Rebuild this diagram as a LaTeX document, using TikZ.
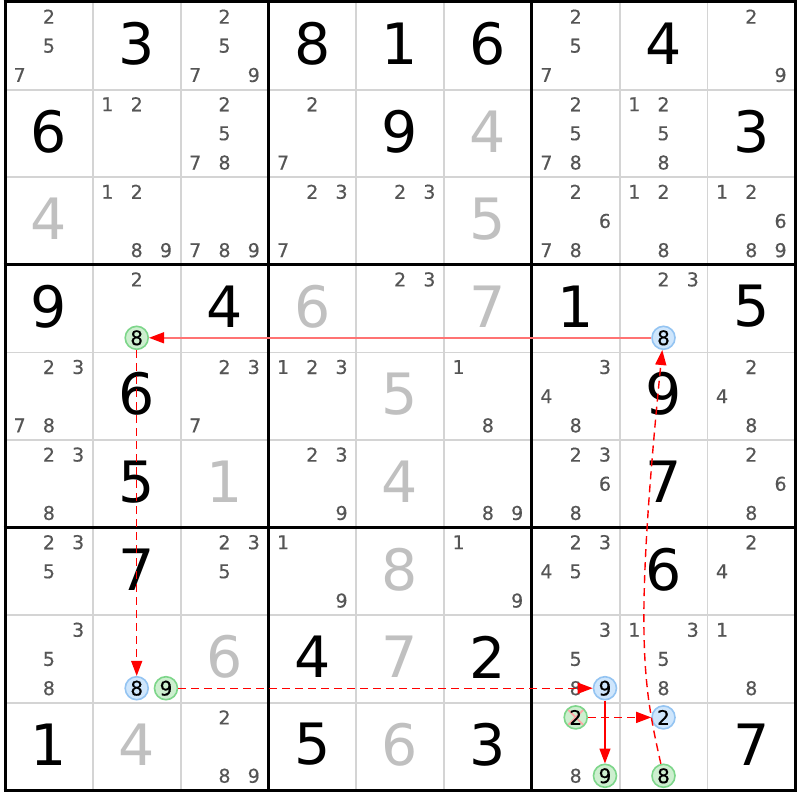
\documentclass[tikz,border=0pt]{standalone}
\usepackage{fontspec}
\setmainfont{DejaVu Sans}
\newfontfamily\candfont{DejaVu Sans}[FakeBold=0.4]
\usetikzlibrary{arrows.meta}

\definecolor{candgray}{HTML}{555555}
\definecolor{solvedgray}{HTML}{C0C0C0}
\definecolor{thingrid}{HTML}{D4D4D4}
\definecolor{bluefill}{HTML}{CFE6FC}
\definecolor{blueline}{HTML}{94C4F2}
\definecolor{greenfill}{HTML}{CDEFCF}
\definecolor{greenline}{HTML}{7DD68A}
\definecolor{linkred}{HTML}{FF0000}

\tikzset{
  given/.style={font=\fontsize{57}{57}\selectfont, text=black, inner sep=0pt},
  solved/.style={given, text=solvedgray},
  cand/.style={font=\candfont\fontsize{19}{19}\selectfont, text=candgray, inner sep=0pt},
  hlblue/.style={circle, draw=blueline, fill=bluefill, line width=1.6pt, minimum size=23pt, inner sep=0pt, font=\candfont\fontsize{20}{20}\selectfont, text=black},
  hlgreen/.style={hlblue, draw=greenline, fill=greenfill},
  link/.style={draw=linkred, line width=1.4pt, -{Triangle[length=15pt,width=11pt,color=linkred]}},
  linkdash/.style={link, dash pattern=on 8pt off 5pt}
}

\begin{document}
\begin{tikzpicture}[x=1pt, y=-1pt]
    \useasboundingbox[fill=white] (0,0) rectangle (800,800);

    % cell centres and candidate places
    \foreach \r in {1,...,9} {
      \foreach \c in {1,...,9} {
        \coordinate (m\r\c) at ({5+(\c-0.5)*87.8}, {0+(\r-0.5)*87.6});
        \foreach \d in {1,...,9} {
          \coordinate (p\r\c\d) at ({5+(\c-1)*87.8+(mod(\d-1,3)+0.5)*29.27}, {2+(\r-1)*87.6+(floor((\d-1)/3)+0.5)*29.2});
        }
      }
    }

    % grid
    \foreach \i in {1,2,4,5,7,8} {
      \draw[thingrid, line width=1.8pt] ({5+\i*87.8},2) -- ({5+\i*87.8},790);
      \draw[thingrid, line width=1.8pt] (5,{2+\i*87.6}) -- (795,{2+\i*87.6});
    }
    \foreach \i in {0,3,6,9} {
      \draw[black, line width=3pt] ({5+\i*87.8},0.5) -- ({5+\i*87.8},791.5);
      \draw[black, line width=3pt] (3.5,{2+\i*87.6}) -- (796.5,{2+\i*87.6});
    }

    % given and solved digits
    \foreach \r/\c/\d in {1/2/3, 1/4/8, 1/5/1, 1/6/6, 1/8/4, 2/1/6, 2/5/9, 2/9/3,
        4/1/9, 4/3/4, 4/7/1, 4/9/5, 5/2/6, 5/8/9, 6/2/5, 6/8/7, 7/2/7, 7/8/6,
        8/4/4, 8/6/2, 9/1/1, 9/4/5, 9/6/3, 9/9/7}
      \node[given] (g\r\c) at (m\r\c) {\d};
    \foreach \r/\c/\d in {2/6/4, 3/1/4, 3/6/5, 4/4/6, 4/6/7, 5/5/5, 6/3/1, 6/5/4,
        7/5/8, 8/3/6, 8/5/7, 9/2/4, 9/5/6}
      \node[solved] (g\r\c) at (m\r\c) {\d};

    % pencil marks
    \foreach \r/\c/\ds in {1/1/{2,5,7}, 1/3/{2,5,7,9}, 1/7/{2,5,7}, 1/9/{2,9},
        2/2/{1,2}, 2/3/{2,5,7,8}, 2/4/{2,7}, 2/7/{2,5,7,8}, 2/8/{1,2,5,8},
        3/2/{1,2,8,9}, 3/3/{7,8,9}, 3/4/{2,3,7}, 3/5/{2,3}, 3/7/{2,6,7,8}, 3/8/{1,2,8}, 3/9/{1,2,6,8,9},
        4/2/{2}, 4/5/{2,3}, 4/8/{2,3},
        5/1/{2,3,7,8}, 5/3/{2,3,7}, 5/4/{1,2,3}, 5/6/{1,8}, 5/7/{3,4,8}, 5/9/{2,4,8},
        6/1/{2,3,8}, 6/4/{2,3,9}, 6/6/{8,9}, 6/7/{2,3,6,8}, 6/9/{2,6,8},
        7/1/{2,3,5}, 7/3/{2,3,5}, 7/4/{1,9}, 7/6/{1,9}, 7/7/{2,3,4,5}, 7/9/{2,4},
        8/1/{3,5,8}, 8/7/{3,5,8}, 8/8/{1,3,5,8}, 8/9/{1,8},
        9/3/{2,8,9}, 9/7/{8}} {
      \foreach \d in \ds
        \node[cand] (n\r\c\d) at (p\r\c\d) {\d};
    }

    % marked candidates
    \node[hlblue] (n488) at (p488) {8};
    \node[hlgreen] (n428) at (p428) {8};
    \node[hlblue] (n828) at (p828) {8};
    \node[hlgreen] (n829) at (p829) {9};
    \node[hlblue] (n879) at (p879) {9};
    \node[hlgreen, path picture={
        \draw[red!35, line width=1.8pt]
          ([shift={(-8,-8)}]path picture bounding box.center) -- ([shift={(8,8)}]path picture bounding box.center)
          ([shift={(-8,8)}]path picture bounding box.center) -- ([shift={(8,-8)}]path picture bounding box.center);
      }] (n972) at (p972) {2};
    \node[hlgreen] (n979) at (p979) {9};
    \node[hlblue] (n982) at (p982) {2};
    \node[hlgreen] (n988) at (p988) {8};

    % links
    \draw[link, draw=linkred!55] (n488) -- (n428);
    \draw[linkdash] (n428) -- (n828);
    \draw[linkdash] (n829) -- (n879);
    \draw[link] (n879) -- (n979);
    \draw[linkdash] (n972) -- (n982);
    \draw[linkdash] (n988) .. controls +(-20,-90) and +(-30,300) .. (n488);
\end{tikzpicture}
\end{document}
